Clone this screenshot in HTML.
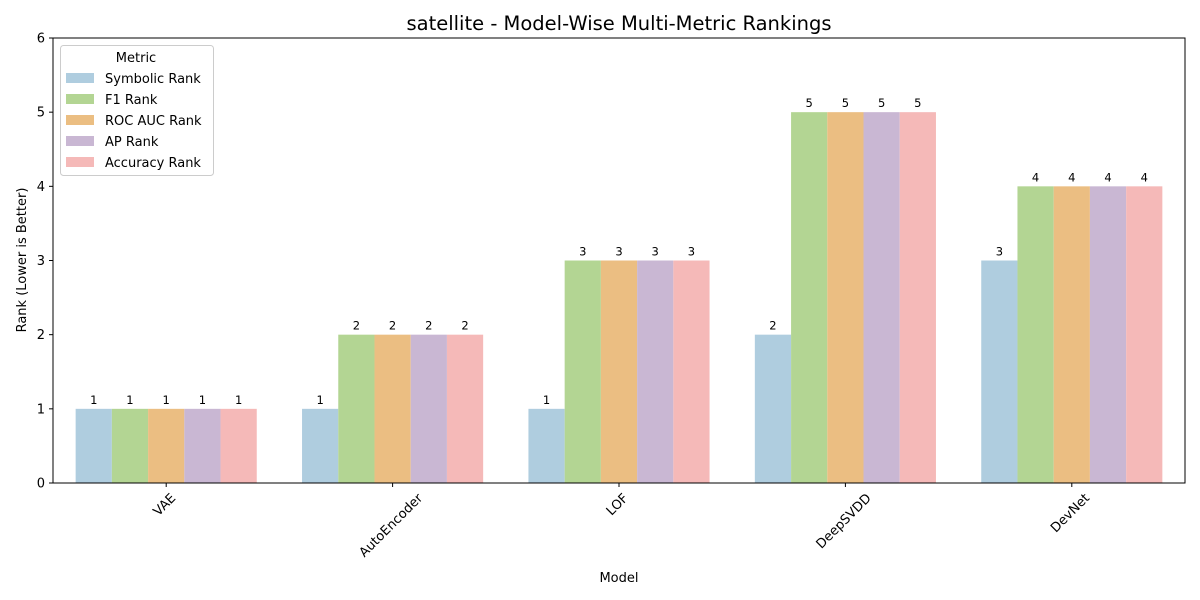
<!DOCTYPE html>
<html><head><meta charset="utf-8"><style>
html,body{margin:0;padding:0;background:#fff;}
svg{display:block;font-family:"DejaVu Sans","Liberation Sans",sans-serif;}
</style></head><body>
<svg id="chart" width="1200" height="600" viewBox="0 0 1200 600">
<rect width="1200" height="600" fill="#fff"/>
<text x="619" y="30" text-anchor="middle" font-size="19.5" fill="#000">satellite - Model-Wise Multi-Metric Rankings</text>
<g id="bars"></g>
<g id="labels"></g>
<g id="axes"></g>
<text x="619" y="582" text-anchor="middle" font-size="13">Model</text>
<text transform="translate(26,260) rotate(-90)" text-anchor="middle" font-size="13">Rank (Lower is Better)</text>
<g id="legend"></g>
</svg>
<script>
const categories = ["VAE","AutoEncoder","LOF","DeepSVDD","DevNet"];
const seriesNames = ["Symbolic Rank","F1 Rank","ROC AUC Rank","AP Rank","Accuracy Rank"];
const symbolicRank = [1,1,1,2,3];
const f1Rank = [1,2,3,5,4];
const rocAucRank = [1,2,3,5,4];
const apRank = [1,2,3,5,4];
const accuracyRank = [1,2,3,5,4];
const yTicks = [0,1,2,3,4,5,6];

const series = [symbolicRank,f1Rank,rocAucRank,apRank,accuracyRank];
const colors = ["#afcddf","#b3d593","#ebbe82","#c9b7d3","#f5b9b8"];
const NS = "http://www.w3.org/2000/svg";
const L=53,R=1185,T=38,B=483,yMax=6;
const band=(R-L)/categories.length;
const y=v=>B-(v/yMax)*(B-T);
const xc=i=>L+band*(i+0.5);
const groupW=band*0.8, barW=groupW/series.length;
function mk(tag,attrs,parent){const e=document.createElementNS(NS,tag);for(const k in attrs)e.setAttribute(k,attrs[k]);parent.appendChild(e);return e;}
const gb=document.getElementById('bars'),gl=document.getElementById('labels'),ga=document.getElementById('axes'),lg=document.getElementById('legend');
series.forEach((s,si)=>{
  s.forEach((v,ci)=>{
    const x0=xc(ci)-groupW/2+si*barW;
    const r=mk('rect',{x:x0,y:y(v),width:barW,height:B-y(v),fill:colors[si]},gb);
    
    
    const t=mk('text',{x:x0+barW/2,y:y(v)-5,'text-anchor':'middle','font-size':'11.5',fill:'#000'},gl);
    t.textContent=v;
    
    
  });
});
mk('rect',{x:L,y:T,width:R-L,height:B-T,fill:'none',stroke:'#000','stroke-width':1},ga);
yTicks.forEach(v=>{
  mk('line',{x1:L-4,x2:L,y1:y(v),y2:y(v),stroke:'#000'},ga);
  const t=mk('text',{x:L-8,y:y(v)+4.5,'text-anchor':'end','font-size':'13'},ga);
  t.textContent=v;
  
  
});
categories.forEach((c,i)=>{
  mk('line',{x1:xc(i),x2:xc(i),y1:B,y2:B+4,stroke:'#000'},ga);
  const t=mk('text',{x:0,y:4.5,'text-anchor':'middle','font-size':'13'},ga);
  t.textContent=c;
  const w=t.getComputedTextLength();
  const half=(w+13)*0.7071/2;
  t.setAttribute('transform',`translate(${xc(i)-2},${B+8+half}) rotate(-45)`);
  
  
});
mk('rect',{x:60.5,y:45.5,width:153,height:130,rx:3,fill:'#fff','fill-opacity':0.8,stroke:'#ccc'},lg);
const lt=mk('text',{x:136,y:62,'text-anchor':'middle','font-size':'13'},lg);
lt.textContent='Metric';
seriesNames.forEach((n,i)=>{
  const yy=78+i*21;
  const sw=mk('rect',{x:66,y:yy-5,width:28,height:10,fill:colors[i]},lg);
  
  
  const t=mk('text',{x:105,y:yy+5,'font-size':'13'},lg);
  t.textContent=n;
  
  
});
</script>
</body></html>
